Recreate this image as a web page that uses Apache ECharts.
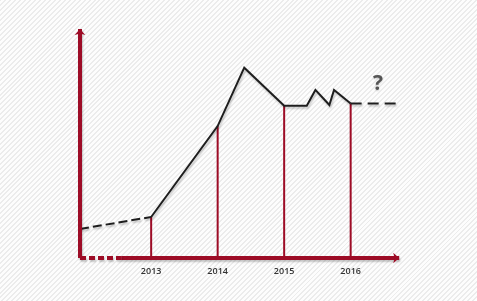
<!DOCTYPE html>
<html>
<head>
<meta charset="utf-8">
<script src="https://cdn.jsdelivr.net/npm/echarts@6/dist/echarts.min.js"></script>
<style>
  html, body { margin: 0; padding: 0; }
  body {
    width: 477px; height: 301px; overflow: hidden;
    background: repeating-linear-gradient(135deg, #ececec 0px, #ececec 1.4px, #fdfdfd 1.4px, #fdfdfd 3.5px);
  }
  #chart { width: 477px; height: 301px; }
</style>
</head>
<body>
<div id="chart"></div>
<script>
// ---- data ----
const xMin = 2011.93, xMax = 2016.75;
const tickYears = [2013, 2014, 2015, 2016];
const tickLabels = ['2013', '2014', '2015', '2016'];
// trend line (x = year position, y = level 0..100)
const startX = [2011.93, 2013];
const startY = [12.7, 17.9];
const mainX = [2013, 2014, 2014.4, 2015, 2015.34, 2015.47, 2015.68, 2015.75, 2016];
const mainY = [17.9, 57.6, 83.1, 66.5, 66.5, 73.4, 66.8, 73.4, 67.5];
const endX = [2016, 2016.7];
const endY = [67.5, 67.5];
const markerYears = [2013, 2014, 2015, 2016];
const markerValues = [17.9, 57.6, 66.5, 67.5];
const questionPos = [2016.41, 76.0];
const axisDashEnd = 2012.56;
const axisArrowEnd = 2016.73;

const RED = '#9d0c26';
const BLACK = '#1e1e1e';
const shadow = { shadowColor: 'rgba(0,0,0,0.22)', shadowBlur: 2, shadowOffsetX: 1, shadowOffsetY: 2 };

const zip = (a, b) => a.map((v, i) => [v, b[i]]);

const chart = echarts.init(document.getElementById('chart'), null, { renderer: 'canvas' });
chart.setOption({
  animation: false,
  backgroundColor: 'transparent',
  grid: { left: 80, right: 477 - 80 - (xMax - xMin) * 66.5, top: 29, bottom: 43 },
  xAxis: {
    type: 'value', min: xMin, max: xMax,
    axisLine: { show: false }, axisTick: { show: false }, splitLine: { show: false },
    axisLabel: {
      customValues: tickYears,
      formatter: v => tickLabels[tickYears.indexOf(Math.round(v))] || '',
      margin: 9, color: '#333', fontSize: 9, fontWeight: 600, fontFamily: 'Open Sans'
    }
  },
  yAxis: {
    type: 'value', min: 0, max: 100,
    axisLine: { show: false }, axisTick: { show: false }, splitLine: { show: false }, axisLabel: { show: false }
  },
  series: [
    {
      type: 'bar', data: zip(markerYears, markerValues), barWidth: 2,
      itemStyle: { color: RED }, silent: true, z: 1
    },
    {
      type: 'line', data: [], silent: true, z: 3,
      markLine: {
        silent: true, symbol: ['none', 'arrow'], symbolSize: [8, 6], label: { show: false },
        lineStyle: Object.assign({ color: RED, width: 4, type: 'solid' }, shadow),
        data: [
          [{ coord: [xMin, 0] }, { coord: [xMin, 100] }],
          [{ coord: [axisDashEnd, 0] }, { coord: [axisArrowEnd, 0] }]
        ]
      }
    },
    {
      type: 'line', data: [], silent: true, z: 3,
      markLine: {
        silent: true, symbol: ['none', 'none'], label: { show: false },
        lineStyle: Object.assign({ color: RED, width: 4, type: [6, 3] }, shadow),
        data: [[{ coord: [xMin, 0] }, { coord: [axisDashEnd, 0] }]]
      }
    },
    {
      type: 'line', data: zip(startX, startY), showSymbol: false, silent: true, z: 4,
      lineStyle: Object.assign({ color: BLACK, width: 2, type: [9, 4] }, shadow)
    },
    {
      type: 'line', data: zip(mainX, mainY), showSymbol: false, silent: true, z: 4,
      lineStyle: Object.assign({ color: BLACK, width: 2, join: 'miter' }, shadow)
    },
    {
      type: 'line', data: zip(endX, endY), showSymbol: false, silent: true, z: 4,
      lineStyle: Object.assign({ color: BLACK, width: 2, type: [11, 6] }, shadow),
      markPoint: {
        silent: true, symbol: 'circle', symbolSize: 1,
        itemStyle: { color: 'transparent' },
        label: {
          show: true, position: 'inside', formatter: '?',
          fontSize: 21, fontWeight: 'bold', color: '#555', fontFamily: 'Open Sans',
          textShadowColor: 'rgba(0,0,0,0.2)', textShadowBlur: 2, textShadowOffsetY: 1
        },
        data: [{ coord: questionPos }]
      }
    }
  ]
});
</script>
</body>
</html>
